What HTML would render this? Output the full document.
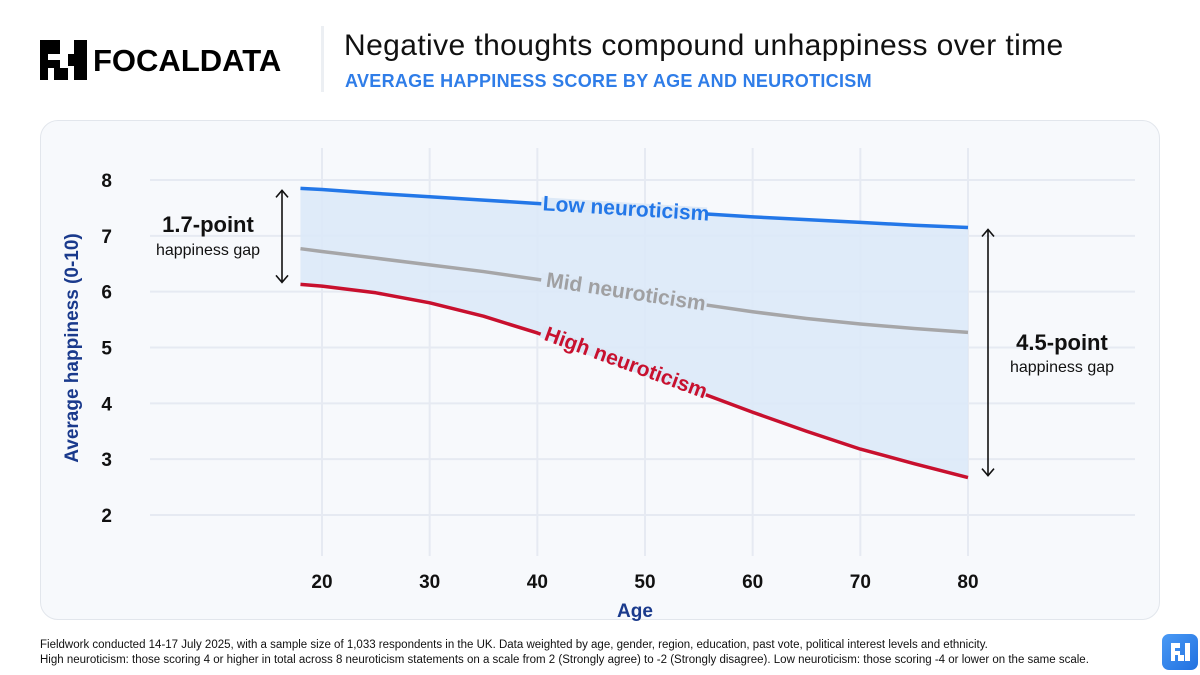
<!DOCTYPE html>
<html><head><meta charset="utf-8"><style>
body{margin:0;width:1200px;height:675px;background:#fff;font-family:"Liberation Sans",sans-serif;overflow:hidden;position:relative}
.t{position:absolute}
</style></head><body>
<div class="t" style="left:40px;top:40px;width:47px;height:40px">
<svg width="47" height="40" viewBox="0 0 47 40"><g fill="#000"><rect x="0" y="0" width="20" height="14"/><rect x="0" y="14" width="8" height="26"/><rect x="8" y="20" width="12" height="8"/><rect x="14" y="28" width="14" height="12"/><rect x="34" y="0" width="13" height="40"/><rect x="28" y="14" width="6" height="12"/></g></svg></div>
<div class="t" style="left:93px;top:41px;font-size:31px;font-weight:bold;line-height:40px">FOCALDATA</div>
<div class="t" style="left:321px;top:26px;width:3px;height:66px;background:#eceff3"></div>
<div class="t" style="left:344px;top:28px;font-size:30px;letter-spacing:0.4px;color:#111;line-height:36px">Negative thoughts compound unhappiness over time</div>
<div class="t" style="left:345px;top:70px;font-size:18px;letter-spacing:0.3px;font-weight:bold;color:#2f7de8;line-height:22px">AVERAGE HAPPINESS SCORE BY AGE AND NEUROTICISM</div>
<div class="t" style="left:40px;top:120px;width:1118px;height:498px;border:1px solid #e2e6ec;border-radius:18px;background:#f7f9fc"></div>
<svg class="t" style="left:0;top:0" width="1200" height="675" id="chart"></svg>
<div class="t" style="left:40px;top:638px;font-size:11.5px;color:#111;line-height:15px">Fieldwork conducted 14-17 July 2025, with a sample size of 1,033 respondents in the UK. Data weighted by age, gender, region, education, past vote, political interest levels and ethnicity.<br>High neuroticism: those scoring 4 or higher in total across 8 neuroticism statements on a scale from 2 (Strongly agree) to -2 (Strongly disagree). Low neuroticism: those scoring -4 or lower on the same scale.</div>
<div class="t" style="left:1162px;top:634px;width:36px;height:36px;border-radius:7px;background:linear-gradient(135deg,#4a9af5,#2070e0)">
<svg width="36" height="36"><g fill="#fff"><rect x="9" y="9" width="9" height="5"/><rect x="9" y="14" width="4" height="13"/><rect x="13" y="17" width="5" height="4"/><rect x="16" y="21" width="6" height="6"/><rect x="23" y="9" width="5" height="18"/></g></svg></div>
<script>
const ages=[18,20,25,30,35,40,45,50,55,60,65,70,75,80];
const low=[7.85,7.83,7.76,7.7,7.64,7.58,7.52,7.46,7.4,7.34,7.29,7.24,7.19,7.15];
const mid=[6.77,6.72,6.6,6.48,6.36,6.22,6.08,5.93,5.78,5.64,5.52,5.42,5.34,5.27];
const high=[6.13,6.1,5.98,5.8,5.56,5.26,4.92,4.56,4.2,3.84,3.5,3.18,2.92,2.67];
const xTicks=[20,30,40,50,60,70,80];
const yTicks=[2,3,4,5,6,7,8];
const X=a=>322+(a-20)*(968-322)/60;
const Y=v=>515-(v-2)*(515-180)/6;
const s=document.getElementById('chart');const NS='http://www.w3.org/2000/svg';
function mk(t,at,p){const e=document.createElementNS(NS,t);for(const k in at)e.setAttribute(k,at[k]);(p||s).appendChild(e);return e;}
xTicks.forEach(a=>{const l=mk('line',{x1:X(a),x2:X(a),y1:148,y2:556,stroke:'#e6eaf2','stroke-width':2});
const t=mk('text',{x:X(a),y:588,'text-anchor':'middle','font-size':19,'font-weight':'bold',fill:'#111'});t.textContent=a;});
yTicks.forEach(v=>{const l=mk('line',{x1:150,x2:1135,y1:Y(v),y2:Y(v),stroke:'#e6eaf2','stroke-width':2});
const t=mk('text',{x:112,y:Y(v)+7,'text-anchor':'end','font-size':19,'font-weight':'bold',fill:'#111'});t.textContent=v;});
const pts=arr=>arr.map((v,i)=>X(ages[i])+','+Y(v));
const area=mk('polygon',{points:pts(low).concat(pts(high).reverse()).join(' '),fill:'#dce9f8',opacity:0.9});

function series(arr,col,name,label,a1,a2,lc){
const p=mk('polyline',{points:pts(arr).join(' '),fill:'none',stroke:col,'stroke-width':3.5,'stroke-linejoin':'round'});

const i1=ages.indexOf(a1),i2=ages.indexOf(a2);
const x1=X(a1),y1=Y(arr[i1]),x2=X(a2),y2=Y(arr[i2]);
const ang=Math.atan2(y2-y1,x2-x1)*180/Math.PI;
const cx=(x1+x2)/2,cy=(y1+y2)/2;
const g=mk('g',{transform:`translate(${cx+8},${cy}) rotate(${ang})`});
const len=Math.hypot(x2-x1,y2-y1);
mk('rect',{x:-len/2-4,y:-6,width:len+4,height:12,fill:'#dde9f7'},g);
const t=mk('text',{x:0,y:7,'text-anchor':'middle','font-size':21,fill:lc,'font-weight':'bold'},g);t.textContent=label;
}
series(low,'#2377e8','low-neuroticism','Low neuroticism',40,55,'#2377e8');
series(mid,'#a6a6a8','mid-neuroticism','Mid neuroticism',40,55,'#a0a0a2');
series(high,'#c8102e','high-neuroticism','High neuroticism',40,55,'#c8102e');
function arrow(x,y1,y2,name){const g=mk('g',{stroke:'#111','stroke-width':1.6,fill:'none'});
mk('line',{x1:x,x2:x,y1:y1,y2:y2},g);mk('polyline',{points:`${x-6},${y1+7} ${x},${y1} ${x+6},${y1+7}`},g);mk('polyline',{points:`${x-6},${y2-7} ${x},${y2} ${x+6},${y2-7}`},g);}
arrow(282,Y(low[0])+2,Y(high[0])-2,'left-gap-arrow');
arrow(988,Y(low[13])+2,Y(high[13])-2,'right-gap-arrow');
function txt(x,y,str,sz,w,name){const t=mk('text',{x:x,y:y,'text-anchor':'middle','font-size':sz,'font-weight':w,fill:'#111'});t.textContent=str;}
txt(208,232,'1.7-point',22,'bold','left-gap-value');txt(208,255,'happiness gap',16,'normal','left-gap-text');
txt(1062,350,'4.5-point',22,'bold','right-gap-value');txt(1062,372,'happiness gap',16,'normal','right-gap-text');
const xt=mk('text',{x:635,y:617,'text-anchor':'middle','font-size':19,'font-weight':'bold',fill:'#1a3a8c'});xt.textContent='Age';
const yt=mk('text',{x:0,y:0,transform:'translate(78,348) rotate(-90)','text-anchor':'middle','font-size':19,'font-weight':'bold',fill:'#1a3a8c'});yt.textContent='Average happiness (0-10)';
</script>
</body></html>
